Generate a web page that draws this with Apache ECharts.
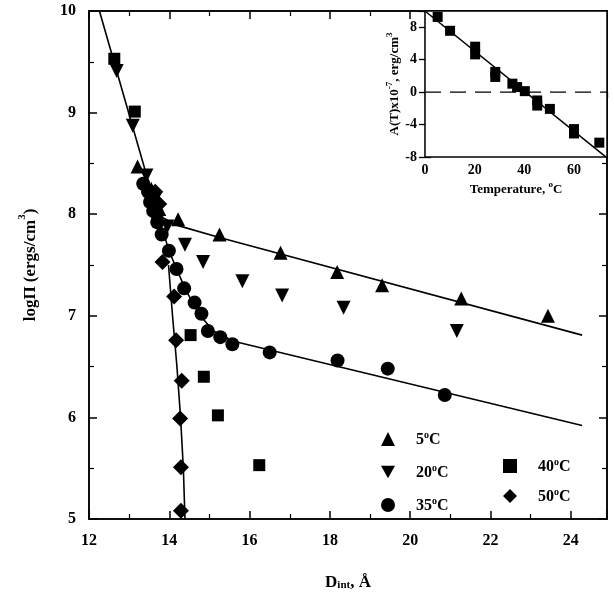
<!DOCTYPE html>
<html>
<head>
<meta charset="utf-8">
<script src="https://cdn.jsdelivr.net/npm/echarts@6/dist/echarts.min.js"></script>
<style>html,body{margin:0;padding:0;background:#fff}#c{width:614px;height:609px}</style>
</head>
<body>
<div id="c"></div>
<script>
// ---- data ----
const t5 = [[13.21,8.47],[13.55,8.25],[13.75,8.05],[14.22,7.95],[15.25,7.80],[16.77,7.62],[18.18,7.43],[19.30,7.30],[21.27,7.17],[23.43,7.00]];
const t20 = [[12.69,9.41],[13.09,8.87],[13.43,8.38],[13.65,8.15],[13.95,7.88],[14.39,7.70],[14.84,7.53],[15.82,7.34],[16.81,7.20],[18.34,7.08],[21.16,6.85]];
const t35 = [[13.35,8.30],[13.47,8.22],[13.52,8.12],[13.60,8.03],[13.70,7.92],[13.81,7.80],[13.99,7.64],[14.18,7.46],[14.37,7.27],[14.63,7.13],[14.80,7.02],[14.96,6.85],[15.27,6.79],[15.57,6.72],[16.50,6.64],[18.19,6.56],[19.44,6.48],[20.86,6.22]];
const t40 = [[12.63,9.53],[13.14,9.01],[13.58,8.18],[13.70,7.97],[14.53,6.81],[14.86,6.40],[15.21,6.02],[16.24,5.53]];
const t50 = [[13.65,8.22],[13.75,8.10],[13.83,7.53],[14.12,7.19],[14.17,6.76],[14.31,6.36],[14.27,5.99],[14.29,5.51],[14.29,5.08]];
const fitSteep = [[12.26,10.0],[13.72,7.99]];
const fit5 = [[13.72,7.99],[14.2,7.89],[15.25,7.77],[24.28,6.81]];
const fit35 = [[13.72,7.99],[14.0,7.63],[14.4,7.26],[14.75,7.01],[15.1,6.85],[15.6,6.75],[24.28,5.92]];
const fit50 = [[13.98,7.5],[14.08,7.0],[14.19,6.5],[14.28,6.0],[14.35,5.5],[14.39,5.0]];
const insetT = [5.1,10.1,20.2,20.2,28.3,28.3,35.2,37.1,40.2,45.2,45.2,50.3,60.0,60.0,70.2];
const insetA = [9.27,7.56,5.6,4.65,2.49,1.87,1.04,0.62,0.12,-1.03,-1.66,-2.07,-4.56,-5.1,-6.23];
const insetFit = [[0,10.0],[73.3,-8.1]];
const insetZero = [[0,0],[73.3,0]];
const legendNames = ['5°C','20°C','35°C','40°C','50°C'];

const F = 'Liberation Serif';
const chart = echarts.init(document.getElementById('c'), null, {renderer:'canvas'});
const axisCommon = {
  axisLine:{show:true,lineStyle:{color:'#000',width:1.5}},
  axisTick:{show:true,inside:true,length:8,lineStyle:{color:'#000',width:1.5}},
  minorTick:{show:true,splitNumber:2,length:5,lineStyle:{color:'#000',width:1.2}},
  splitLine:{show:false}
};
const labelStyle = {color:'#000',fontFamily:F,fontWeight:'bold',fontSize:16};
const richSup = {
  b:{fontFamily:F,fontWeight:'bold',fontSize:17,color:'#000',lineHeight:22,verticalAlign:'bottom'},
  sup:{fontFamily:F,fontWeight:'bold',fontSize:11,color:'#000',lineHeight:22,verticalAlign:'top'},
  sub:{fontFamily:F,fontWeight:'bold',fontSize:11,color:'#000',lineHeight:14,verticalAlign:'bottom'},
  bs:{fontFamily:F,fontWeight:'bold',fontSize:13,color:'#000',lineHeight:16,verticalAlign:'bottom'},
  ss:{fontFamily:F,fontWeight:'bold',fontSize:9,color:'#000',lineHeight:16,verticalAlign:'top'}
};
function sc(name, data, symbol, size, rot){
  return {name, type:'scatter', xAxisIndex:0, yAxisIndex:0, data, symbol, symbolSize:size, symbolRotate:rot||0,
    itemStyle:{color:'#000',opacity:1}, z:5};
}
function ln(data, xi, yi, dashed){
  return {type:'line', xAxisIndex:xi, yAxisIndex:yi, data, showSymbol:false, symbol:'none',
    lineStyle:{color:'#000',width: dashed?1.3:1.6, type: dashed?[16,9]:'solid'}, silent:true, z:3};
}
const legendText = {
  fontFamily:F, fontWeight:'bold', fontSize:16, color:'#000', padding:[0,0,0,16],
  rich:{n:{fontFamily:F,fontWeight:'bold',fontSize:16,color:'#000',lineHeight:18,verticalAlign:'bottom'},
        s:{fontFamily:F,fontWeight:'bold',fontSize:10,color:'#000',lineHeight:18,verticalAlign:'top'}}
};
function legFmt(n){ const m = n.split('°'); return '{n|'+m[0]+'}{s|o}{n|'+m[1]+'}'; }
const downTri = 'path://M0,0 L10,0 L5,9 Z';

chart.setOption({
  animation:false,
  backgroundColor:'#fff',
  grid:[
    {left:89, top:11, right:7, bottom:90, show:true, borderColor:'#000', borderWidth:1.5, backgroundColor:'transparent'},
    {left:425, top:11, right:7, bottom:452, show:true, borderColor:'#000', borderWidth:1.5, backgroundColor:'#fff', z:1}
  ],
  legend:[
    {data:[{name:legendNames[0], icon:'triangle'},{name:legendNames[1], icon:downTri},{name:legendNames[2], icon:'circle'}],
     orient:'vertical', left:376, top:425, itemWidth:14, itemHeight:14, itemGap:15,
     textStyle:legendText, formatter:legFmt, selectedMode:false, itemStyle:{opacity:1}},
    {data:[{name:legendNames[3], icon:'rect'},{name:legendNames[4], icon:'diamond'}],
     orient:'vertical', left:498, top:452, itemWidth:14, itemHeight:14, itemGap:12,
     textStyle:legendText, formatter:legFmt, selectedMode:false, itemStyle:{opacity:1}}
  ],
  xAxis:[
    Object.assign({}, axisCommon, {gridIndex:0, type:'value', min:12, max:24.9, interval:2, position:'bottom',
      axisLabel:Object.assign({}, labelStyle, {margin:14, showMaxLabel:false}),
      name:'{b|D}{sub|int}{b|, Å}', nameLocation:'middle', nameGap:50,
      nameTextStyle:{rich:richSup}}),
    Object.assign({}, axisCommon, {gridIndex:0, type:'value', min:12, max:24.9, interval:2, position:'top',
      axisLabel:{show:false}}),
    {gridIndex:1, type:'value', min:0, max:73.3, interval:20, position:'bottom',
      axisLine:{show:true,lineStyle:{color:'#000',width:1.3}},
      axisTick:{show:true,inside:true,length:6,lineStyle:{color:'#000',width:1.3}},
      splitLine:{show:false},
      axisLabel:{color:'#000',fontFamily:F,fontWeight:'bold',fontSize:14,margin:6,showMaxLabel:false},
      name:'{bs|Temperature, }{ss|o}{bs|C}', nameLocation:'middle', nameGap:23, nameTextStyle:{rich:richSup}},
    {gridIndex:1, type:'value', min:0, max:73.3, interval:20, position:'top',
      axisLine:{show:false}, axisTick:{show:true,inside:true,length:6,lineStyle:{color:'#000',width:1.3}},
      splitLine:{show:false}, axisLabel:{show:false}}
  ],
  yAxis:[
    Object.assign({}, axisCommon, {gridIndex:0, type:'value', min:5, max:10, interval:1, position:'left',
      axisLabel:Object.assign({}, labelStyle, {margin:13}),
      name:'{b|logΠ (ergs/cm}{sup|3}{b|)}', nameLocation:'middle', nameGap:50, nameRotate:90,
      nameTextStyle:{rich:richSup}}),
    Object.assign({}, axisCommon, {gridIndex:0, type:'value', min:5, max:10, interval:1, position:'right',
      axisLabel:{show:false}}),
    {gridIndex:1, type:'value', min:-8, max:10, interval:4, position:'left',
      axisLine:{show:true,lineStyle:{color:'#000',width:1.3}},
      axisTick:{show:true,inside:true,length:6,lineStyle:{color:'#000',width:1.3}},
      splitLine:{show:false},
      axisLabel:{color:'#000',fontFamily:F,fontWeight:'bold',fontSize:14,margin:8,showMaxLabel:false},
      name:'{bs|A(T)x10}{ss|-7}{bs|, erg/cm}{ss|3}', nameLocation:'middle', nameGap:19, nameRotate:90,
      nameTextStyle:{rich:richSup}},
    {gridIndex:1, type:'value', min:-8, max:10, interval:4, position:'right',
      axisLine:{show:false}, axisTick:{show:true,inside:true,length:6,lineStyle:{color:'#000',width:1.3}},
      splitLine:{show:false}, axisLabel:{show:false}}
  ],
  series:[
    ln(fitSteep,0,0), ln(fit5,0,0), ln(fit35,0,0), ln(fit50,0,0),
    sc('5°C', t5, 'triangle', 14),
    sc('20°C', t20, 'triangle', 14, 180),
    sc('35°C', t35, 'circle', 14),
    sc('40°C', t40, 'rect', 12),
    sc('50°C', t50, 'diamond', 16),
    ln(insetFit,2,2), ln(insetZero,2,2,true),
    {type:'scatter', xAxisIndex:2, yAxisIndex:2, data:insetT.map((t,i)=>[t,insetA[i]]), symbol:'rect', symbolSize:10,
     itemStyle:{color:'#000',opacity:1}, z:5}
  ]
});
</script>
</body>
</html>
